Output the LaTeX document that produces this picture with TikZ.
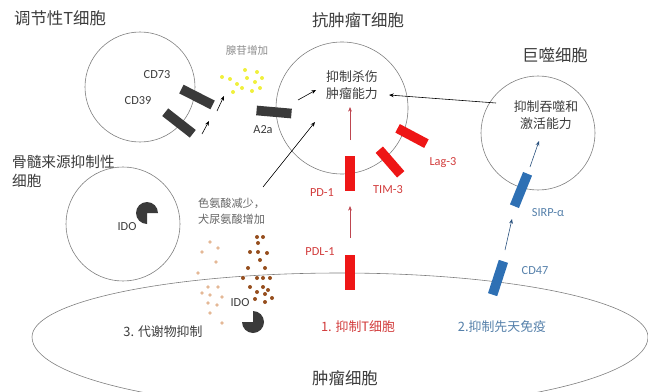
\documentclass[tikz,border=0pt]{standalone}
\usepackage{fontspec}
\setmainfont{Noto Sans CJK SC}
\newfontfamily\labfont{Carlito}
\usetikzlibrary{arrows.meta}

\definecolor{memb}{RGB}{125,125,125}
\definecolor{txt}{RGB}{60,60,60}
\definecolor{barblack}{RGB}{58,58,58}
\definecolor{barred}{RGB}{238,22,22}
\definecolor{txtred}{RGB}{210,60,60}
\definecolor{arrred}{RGB}{190,70,80}
\definecolor{barblue}{RGB}{46,112,180}
\definecolor{txtblue}{RGB}{85,128,170}
\definecolor{arrblue}{RGB}{40,80,125}
\definecolor{adeno}{RGB}{240,240,60}
\definecolor{trp}{RGB}{228,184,150}
\definecolor{kyn}{RGB}{150,78,30}

\tikzset{
	cell/.style={draw=memb, line width=0.5pt, circle, inner sep=0},
	title/.style={font=\fontsize{14}{17}\selectfont, text=txt},
	body/.style={font=\fontsize{11}{14}\selectfont, text=txt, align=center},
	lab/.style={font=\labfont\fontsize{10.5}{12}\selectfont},
	bar/.style={minimum width=1.05cm, minimum height=0.29cm, inner sep=0},
	ptr/.style={-{Stealth[length=4pt,width=3.2pt]}, line width=0.5pt},
}

\begin{document}
\begin{tikzpicture}[x=0.03cm, y=0.03cm]
		%%%%% START %%%%%
		\useasboundingbox (0,0) rectangle (648,-391);
		\clip (0,0) rectangle (648,-391);
		
		% cells
		\node[cell, minimum size=3.3cm] (treg) at (140,-87) {};
		\node[cell, minimum size=3.96cm] (tcell) at (342,-108) {};
		\node[cell, minimum size=3.42cm] (mac) at (538,-133) {};
		\node[cell, minimum size=3.42cm] (mdsc) at (123,-224) {};
		\draw[draw=memb, line width=0.5pt] (32,-337) arc[start angle=180, end angle=0, x radius=308, y radius=64]
			arc[start angle=0, end angle=-180, x radius=308, y radius=72];
		
		% titles
		\node[title, anchor=west] (tregname) at (10,-18) {调节性T细胞};
		\node[title] (tcellname) at (358,-20) {抗肿瘤T细胞};
		\node[title] (macname) at (555,-55) {巨噬细胞};
		\node[title, anchor=north west, align=left, font=\fontsize{12.5}{16}\selectfont] (mdscname) at (8,-151) {骨髓来源抑制性\\细胞};
		\node[title] (tumorname) at (345,-378) {肿瘤细胞};
		
		% regulatory T cell: CD39 / CD73 -> adenosine -> A2a
		\node[lab, text=txt] (cd73) at (157,-75) {CD73};
		\node[lab, text=txt] (cd39) at (138,-101) {CD39};
		\node[bar, fill=barblack, rotate=-27] (cd73bar) at (197,-97) {};
		\node[bar, fill=barblack, rotate=-38] (cd39bar) at (179,-123) {};
		\coordinate (p1) at (202,-134);
		\coordinate (p2) at (209,-121);
		\coordinate (p3) at (217,-111);
		\coordinate (p4) at (224,-96);
		\draw[ptr] (p1) -- (p2);
		\draw[ptr] (p3) -- (p4);
		\node[font=\fontsize{9}{11}\selectfont, text=black!45] (adenotxt) at (247,-50) {腺苷增加};
		\foreach \x/\y in {222/77, 230/79, 237/84, 245/70, 247/78, 257/72, 255/82, 262/78, 233/92, 242/88, 252/91, 260/88}
			\fill[adeno] (\x,-\y) circle (2);
		\node[bar, fill=barblack, rotate=-5] (a2abar) at (274,-112) {};
		\node[lab, text=txt] (a2a) at (263,-130) {A2a};
		\coordinate (p5) at (298,-100);
		\coordinate (p6) at (316,-90);
		\draw[ptr] (p5) -- (p6);
		
		% anti-tumour T cell
		\node[body] (kill) at (352,-85) {抑制杀伤\\肿瘤能力};
		\node[bar, fill=barred, rotate=90] (pd1bar) at (350,-173) {};
		\node[bar, fill=barred, minimum width=0.98cm, rotate=-49] (tim3bar) at (390,-162) {};
		\node[bar, fill=barred, minimum width=0.98cm, rotate=-28] (lag3bar) at (412,-136) {};
		\node[lab, text=txtred] (pd1) at (322,-193) {PD-1};
		\node[lab, text=txtred] (tim3) at (388,-190) {TIM-3};
		\node[lab, text=txtred] (lag3) at (443,-163) {Lag-3};
		\coordinate (r1) at (350,-140);
		\coordinate (r2) at (350,-107);
		\draw[ptr, draw=arrred] (r1) -- (r2);
		\coordinate (r3) at (350,-238);
		\coordinate (r4) at (350,-206);
		\draw[ptr, draw=arrred] (r3) -- (r4);
		
		% macrophage: CD47 / SIRP-alpha
		\node[body] (phago) at (546,-115) {抑制吞噬和\\激活能力};
		\coordinate (m1) at (496,-103);
		\coordinate (m2) at (389,-95);
		\draw[ptr] (m1) -- (m2);
		\node[bar, fill=barblue, rotate=68] (sirpbar) at (521,-190) {};
		\node[lab, text=txtblue] (sirp) at (548,-213) {SIRP-α};
		\coordinate (b1) at (530,-167);
		\coordinate (b2) at (539,-141);
		\draw[ptr, draw=arrblue] (b1) -- (b2);
		\coordinate (b3) at (505,-250);
		\coordinate (b4) at (512,-219);
		\draw[ptr, draw=arrblue] (b3) -- (b4);
		\node[bar, fill=barblue, rotate=72] (cd47bar) at (498,-278) {};
		\node[lab, text=txtblue] (cd47) at (535,-271) {CD47};
		
		% tumour cell
		\node[bar, fill=barred, rotate=90] (pdl1bar) at (350,-272) {};
		\node[lab, text=txtred] (pdl1) at (320,-252) {PDL-1};
		\node[body, text=txtred] (mech1) at (358,-327) {1. 抑制T细胞};
		\node[body, text=txtblue] (mech2) at (502,-327) {2.抑制先天免疫};
		\node[body] (mech3) at (163,-332) {3. 代谢物抑制};
		
		% IDO, tryptophan / kynurenine
		\node[lab, text=txt] (ido1) at (127,-227) {IDO};
		\fill[barblack] (147,-213) -- ++(0:11) arc[start angle=0, end angle=270, radius=11] -- cycle;
		\node[lab, text=txt] (ido2) at (240,-303) {IDO};
		\fill[barblack] (253,-322) -- ++(180:11) arc[start angle=180, end angle=450, radius=11] -- cycle;
		\node[font=\fontsize{9.5}{14}\selectfont, text=black!60, align=left, anchor=west] (trptxt) at (194,-211) {色氨酸减少，\\犬尿氨酸增加};
		\coordinate (k1) at (263,-187);
		\coordinate (k2) at (315,-122);
		\draw[ptr] (k1) -- (k2);
		\foreach \x/\y in {210/242, 202/252, 218/248, 216/262, 198/273, 208/287, 218/287, 202/293, 210/295, 222/297, 208/303, 217/305, 210/313, 222/323}
			\fill[trp] (\x,-\y) circle (1.8);
		\foreach \x/\y in {257/237, 263/237, 258/243, 250/252, 258/252, 267/253, 260/260, 248/268, 265/268, 243/278, 257/278, 263/278, 270/278, 250/287, 263/287, 268/290, 257/292, 265/294, 255/299, 272/298, 265/302}
			\fill[kyn] (\x,-\y) circle (2);
		
		%%%%% END %%%%%
	\end{tikzpicture}
\end{document}
